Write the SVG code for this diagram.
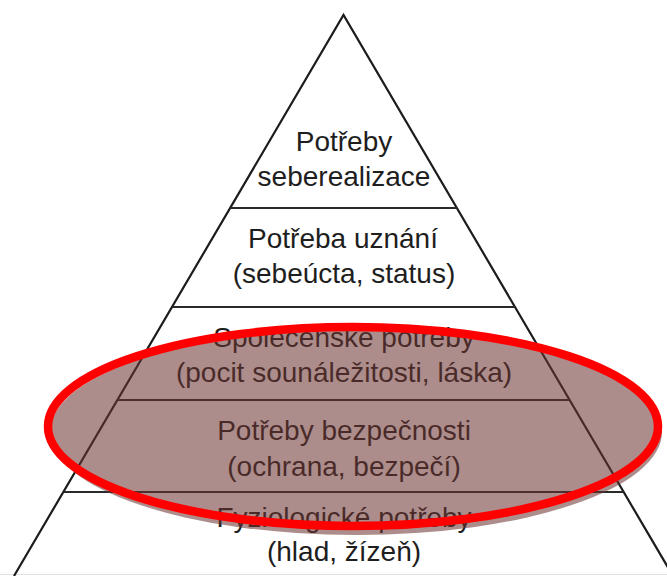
<svg xmlns="http://www.w3.org/2000/svg" width="667" height="576" viewBox="0 0 667 576">
  <style>
    .edge { stroke: #1c1c1c; stroke-width: 2.2; fill: none; stroke-linejoin: miter; }
    .band { stroke: #2a2a2a; stroke-width: 2; }
    .lbl { font-family: "Liberation Sans", Arial, sans-serif; font-size: 28px; fill: #1e1e1e; text-anchor: middle; }
  </style>
  <rect x="0" y="0" width="667" height="576" fill="#ffffff"/>
  <line x1="0" y1="574.5" x2="667" y2="574.5" stroke="#e2e2e2" stroke-width="1"/>
  <g id="connectors">
    <polyline class="edge" points="14,576 343.5,15 673,576"/>
    <line class="band" x1="230" y1="208" x2="457" y2="208"/>
    <line class="band" x1="172" y1="307" x2="515" y2="307"/>
    <line class="band" x1="117.5" y1="400" x2="569.5" y2="400"/>
    <line class="band" x1="63.5" y1="492" x2="623.5" y2="492"/>
  </g>
  <g id="level5">
    <text class="lbl" x="344" y="151">Potřeby</text>
    <text class="lbl" x="344" y="186">seberealizace</text>
  </g>
  <g id="level4">
    <text class="lbl" x="343" y="248">Potřeba uznání</text>
    <text class="lbl" x="344" y="283">(sebeúcta, status)</text>
  </g>
  <g id="level3">
    <text class="lbl" x="344" y="347">Společenské potřeby</text>
    <text class="lbl" x="344" y="382">(pocit sounáležitosti, láska)</text>
  </g>
  <g id="level2">
    <text class="lbl" x="344" y="440">Potřeby bezpečnosti</text>
    <text class="lbl" x="344" y="476">(ochrana, bezpečí)</text>
  </g>
  <g id="level1">
    <text class="lbl" x="344" y="527">Fyziologické potřeby</text>
    <text class="lbl" x="344" y="561">(hlad, žízeň)</text>
  </g>
  <g id="highlight">
    <ellipse cx="356" cy="432" rx="306" ry="103" fill="#6b3331" fill-opacity="0.56"/>
    <ellipse cx="353" cy="426.5" rx="305" ry="99.5" fill="none" stroke="#ff0000" stroke-width="8.5"/>
  </g>
</svg>
